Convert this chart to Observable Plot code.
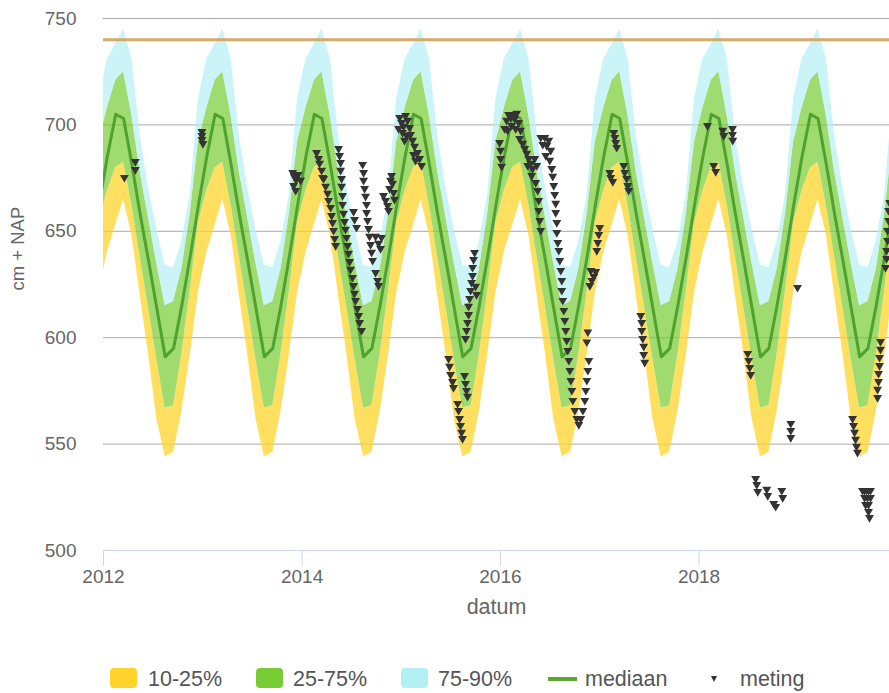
<!DOCTYPE html>
<html><head><meta charset="utf-8">
<script src="https://cdn.jsdelivr.net/npm/d3@7"></script>
<script src="https://cdn.jsdelivr.net/npm/@observablehq/plot@0.6"></script>
<style>
body{margin:0;background:#fff;font-family:"Liberation Sans",Arial,sans-serif;}
#wrap{position:relative;width:889px;height:693px;overflow:hidden;}
#chart{position:absolute;left:0;top:0;}
.lt{position:absolute;font-size:21.5px;color:#555;line-height:1;top:669px;white-space:nowrap;}
.box{position:absolute;width:27px;height:20px;border-radius:4px;top:668px;}
</style></head><body>
<div id="wrap"><div id="chart"></div><div id="legend"></div></div>
<script>
// Seasonal percentile bands (cm + NAP), month Jan..Dec
const maanden = [1,2,3,4,5,6,7,8,9,10,11,12];
const p10 = [640, 653, 665, 648, 620, 592, 562, 544, 546, 565, 592, 621];
const p25 = [669, 680, 682.5, 662, 638, 614, 590, 567, 568, 592, 622, 654];
const p50 = [685, 705, 703, 681, 658, 636, 614, 591, 595, 615, 638, 662];
const p75 = [708, 721, 725, 704, 678, 656, 635, 615, 617, 632, 658, 692];
const p90 = [731, 738, 745, 731, 695, 670, 651, 634, 633, 645, 667, 712];
const jaren = [2011,2012,2013,2014,2015,2016,2017,2018,2019,2020];
const grens = 740;
const yTicks = [500,550,600,650,700,750];
const legendLabels = ["10-25%","25-75%","75-90%","mediaan","meting"];

// Measurements (decimal year, cm + NAP)
const metingJaar = [
2012.21,2012.32,2012.32,
2012.99,2012.99,2012.99,2013.00,
2013.905,2013.92,2013.94,2013.96,2013.985,2013.915,2013.935,
2014.146,2014.166,2014.176,2014.197,2014.207,
2014.217,2014.237,2014.257,2014.267,2014.287,2014.297,2014.307,2014.317,2014.328,2014.338,
2014.368,2014.378,2014.388,2014.388,2014.398,2014.398,2014.408,2014.408,
2014.418,2014.428,2014.438,2014.448,2014.459,2014.469,2014.479,2014.489,2014.509,2014.519,2014.529,2014.539,2014.559,2014.570,2014.580,2014.600,
2014.519,2014.529,2014.549,
2014.610,2014.620,2014.620,2014.630,2014.640,2014.650,2014.650,2014.660,2014.670,2014.680,2014.690,2014.701,2014.711,
2014.741,2014.771,2014.801,2014.791,
2014.741,2014.761,2014.771,
2014.821,2014.842,2014.862,2014.882,2014.892,2014.902,2014.912,2014.922,2014.932,2014.872,
2014.983,2015.003,2015.023,2015.013,2015.043,2015.064,2015.084,2015.054,2015.094,2015.114,2015.134,2015.124,2015.144,2015.164,2015.185,2015.205,2015.033,2014.973,
2015.477,2015.487,2015.497,2015.517,2015.527,
2015.568,2015.578,2015.588,2015.598,2015.608,2015.618,
2015.638,2015.648,2015.658,2015.668,
2015.648,2015.658,2015.668,2015.679,2015.679,2015.689,2015.699,2015.709,2015.719,2015.719,2015.729,2015.739,2015.749,2015.759,
2015.991,2016.001,2016.001,2016.012,
2016.042,2016.062,2016.082,2016.103,2016.123,2016.143,2016.163,2016.072,2016.113,2016.153,2016.183,2016.203,
2016.193,2016.223,2016.244,2016.264,2016.284,2016.304,2016.324,2016.345,2016.365,2016.274,2016.314,2016.355,
2016.375,2016.385,2016.385,2016.395,2016.405,
2016.405,2016.426,2016.446,2016.466,2016.486,2016.506,2016.456,2016.496,2016.516,2016.526,2016.536,2016.546,2016.556,2016.556,2016.567,2016.567,2016.577,
2016.587,2016.597,2016.607,2016.617,2016.617,2016.627,
2016.637,2016.647,2016.657,2016.667,2016.677,2016.688,2016.698,2016.708,2016.718,2016.728,2016.748,2016.768,2016.788,
2016.808,2016.829,2016.849,2016.859,2016.869,2016.879,2016.889,
2016.869,2016.879,
2016.899,2016.919,2016.939,2016.959,2016.909,
2016.969,2016.979,2016.989,2016.999,
2017.100,2017.110,2017.130,
2017.140,2017.150,2017.160,2017.170,
2017.241,2017.251,2017.271,2017.281,2017.291,
2017.412,2017.422,2017.422,2017.432,2017.442,2017.442,2017.452,
2018.085,2018.239,2018.249,2018.337,2018.337,2018.340,2018.148,2018.168,
2018.491,2018.501,2018.511,2018.521,
2018.571,2018.582,2018.592,2018.683,2018.693,2018.753,2018.773,2018.834,2018.844,
2018.925,2018.925,2018.925,2018.993,
2019.548,2019.558,2019.568,2019.578,2019.588,2019.598,
2019.649,2019.669,2019.689,2019.709,2019.729,2019.669,2019.699,2019.729,2019.679,2019.709,2019.709,2019.719,
2019.800,2019.800,2019.810,2019.810,2019.820,2019.820,2019.830,2019.830,
2019.881,2019.891,2019.891,2019.901,2019.901,2019.911,2019.911,2019.921
];
const metingWaarde = [
675.3,682.8,679.0,
696.9,695.0,693.1,691.2,
677.6,675.8,674.3,676.7,673.9,671.5,669.2,
687.0,684.2,681.9,678.6,675.3,
674.8,671.1,667.8,664.5,661.2,657.4,654.1,650.4,646.6,643.3,
688.9,685.6,682.3,678.6,674.8,671.1,666.8,662.6,
658.4,654.6,650.9,647.1,643.3,639.6,635.8,632.1,628.3,624.5,620.8,617.5,613.7,610.4,607.1,603.4,
659.3,655.5,651.8,
681.4,677.6,673.9,670.1,666.4,662.6,658.8,655.1,651.3,647.6,643.8,640.1,636.3,
647.6,644.3,647.1,641.9,
630.6,626.9,624.5,
666.8,664.5,662.1,670.1,673.9,676.2,672.5,668.2,665.0,659.8,
703.5,701.1,699.3,696.4,704.4,702.1,698.8,695.0,695.5,692.7,689.9,686.1,683.3,687.0,684.2,680.9,692.7,698.3,
590.2,586.5,582.7,579.4,576.6,
569.1,565.8,562.0,558.7,555.5,552.6,
582.2,578.5,575.2,572.4,
599.6,603.4,607.1,610.9,614.7,618.4,622.2,625.9,629.2,633.0,636.7,640.0,624.1,620.3,
691.7,688.0,684.2,680.5,
698.3,702.1,704.9,703.5,704.9,703.0,705.4,697.4,699.7,698.3,701.1,697.4,
693.6,691.3,688.9,686.6,684.2,681.9,679.5,684.2,680.9,680.9,676.2,672.9,
669.2,664.5,659.8,655.1,650.4,
694.1,690.8,694.1,690.3,692.7,688.0,685.6,683.3,679.5,675.8,671.5,667.3,663.1,658.8,654.1,649.4,644.7,
641.0,636.3,631.6,626.9,622.2,617.5,
612.8,608.1,603.4,598.7,594.0,589.3,584.6,579.9,575.2,570.5,565.8,562.0,559.2,
562.0,565.8,570.5,575.2,579.9,584.6,589.3,
598.0,602.7,
624.5,626.9,628.8,631.1,631.6,
640.9,644.7,648.5,651.8,
677.6,675.3,673.4,
696.4,694.1,691.7,689.4,
680.9,677.6,674.8,671.5,669.2,
610.4,607.1,603.4,599.6,595.9,592.1,588.4,
699.7,697.4,695.0,698.3,695.5,692.7,680.9,678.1,
592.6,589.3,586.0,582.7,
533.8,531.0,527.7,528.7,525.8,522.1,520.7,528.2,524.9,
559.7,556.4,553.1,623.6,
562.0,558.7,555.5,552.2,548.9,546.1,
528.2,528.2,528.2,528.2,528.2,524.9,524.9,524.9,521.6,521.6,518.3,515.5,
571.9,575.7,579.4,583.2,586.9,590.7,594.5,598.2,
633.0,637.2,641.0,645.7,650.4,655.1,659.8,663.5
];

function jaarNaarDatum(j){
  const y = Math.floor(j);
  const s = Date.UTC(y,0,1), e = Date.UTC(y+1,0,1);
  return new Date(s + (j - y) * (e - s));
}

// Build band table: each month value placed at the 15th of that month, every year
const banden = [];
for (const jaar of jaren) {
  maanden.forEach((m, i) => {
    banden.push({datum: new Date(Date.UTC(jaar, m - 1, 15)), p10: p10[i], p25: p25[i], p50: p50[i], p75: p75[i], p90: p90[i]});
  });
}
const metingen = metingJaar.map((j, i) => ({datum: jaarNaarDatum(j), waarde: metingWaarde[i]}));

const triangleDown = {
  draw(ctx, size) {
    const s = Math.sqrt(4 * size / Math.sqrt(3));
    const h = s * Math.sqrt(3) / 2;
    ctx.moveTo(-s / 2, -h / 3);
    ctx.lineTo(s / 2, -h / 3);
    ctx.lineTo(0, 2 * h / 3);
    ctx.closePath();
  }
};

const textCol = "#666";
const chart = Plot.plot({
  width: 889,
  height: 625,
  marginLeft: 103,
  marginRight: 0,
  marginTop: 18,
  marginBottom: 75,
  style: {fontFamily: '"Liberation Sans", Arial, sans-serif', fontSize: "19px", background: "#fff"},
  x: {type: "utc", domain: [new Date(Date.UTC(2012,0,1)), new Date(Date.UTC(2019,11,3))]},
  y: {domain: [500, 750]},
  marks: [
    Plot.ruleY(yTicks.filter(t => t > 500), {stroke: "#aaa", strokeWidth: 1}),
    Plot.areaY(banden, {x: "datum", y1: "p10", y2: "p25", fill: "#ffd42a", fillOpacity: 0.75, curve: "linear", clip: true}),
    Plot.areaY(banden, {x: "datum", y1: "p25", y2: "p75", fill: "#77cc33", fillOpacity: 0.7, curve: "linear", clip: true}),
    Plot.areaY(banden, {x: "datum", y1: "p75", y2: "p90", fill: "#b3f0f3", fillOpacity: 0.7, curve: "linear", clip: true}),
    Plot.lineY(banden, {x: "datum", y: "p50", stroke: "#4ea22f", strokeWidth: 3, curve: "linear", clip: true}),
    Plot.ruleY([grens], {stroke: "#d4a96a", strokeWidth: 3}),
    Plot.dot(metingen, {x: "datum", y: "waarde", symbol: triangleDown, r: 3.3, fill: "#333", stroke: "none"}),
    Plot.ruleY([500], {stroke: "#ccd6eb", strokeWidth: 1}),
    Plot.axisY({ticks: yTicks, tickSize: 0, tickPadding: 27, fill: textCol, fontSize: 19, label: null}),
    Plot.axisX({ticks: d3.utcYear.every(2), tickFormat: d3.utcFormat("%Y"), tickSize: 16, tickPadding: 3, stroke: "#ccd6eb", fill: textCol, fontSize: 19, label: null}),
    Plot.text(["datum"], {frameAnchor: "bottom", dy: 57, lineAnchor: "middle", fontSize: 21.5, fill: textCol}),
    Plot.text(["cm + NAP"], {frameAnchor: "left", dx: -85, dy: 6, rotate: -90, lineAnchor: "middle", fontSize: 18.5, fill: textCol})
  ]
});
document.getElementById("chart").appendChild(chart);

// Legend
const lg = document.getElementById("legend");
const colors = ["#ffd42a", "#77cc33", "#b3f0f3"];
const boxX = [110, 256, 401];
const textX = [148, 293, 438];
colors.forEach((c, i) => {
  const b = document.createElement("div");
  b.className = "box"; b.style.left = boxX[i] + "px"; b.style.background = c;
  lg.appendChild(b);
  const t = document.createElement("div");
  t.className = "lt"; t.style.left = textX[i] + "px"; t.textContent = legendLabels[i];
  lg.appendChild(t);
});
const ln = document.createElement("div");
ln.style.cssText = "position:absolute;left:548px;top:677px;width:29px;height:3.5px;background:#5aa832;";
lg.appendChild(ln);
const t4 = document.createElement("div");
t4.className = "lt"; t4.style.left = "585px"; t4.textContent = legendLabels[3];
lg.appendChild(t4);
const tri = document.createElementNS("http://www.w3.org/2000/svg", "svg");
tri.setAttribute("width", "10"); tri.setAttribute("height", "10");
tri.style.cssText = "position:absolute;left:709px;top:674px;";
tri.innerHTML = '<path d="M2,2 L8,2 L5,8 Z" fill="#333"/>';
lg.appendChild(tri);
const t5 = document.createElement("div");
t5.className = "lt"; t5.style.left = "740px"; t5.textContent = legendLabels[4];
lg.appendChild(t5);
</script>
</body></html>
